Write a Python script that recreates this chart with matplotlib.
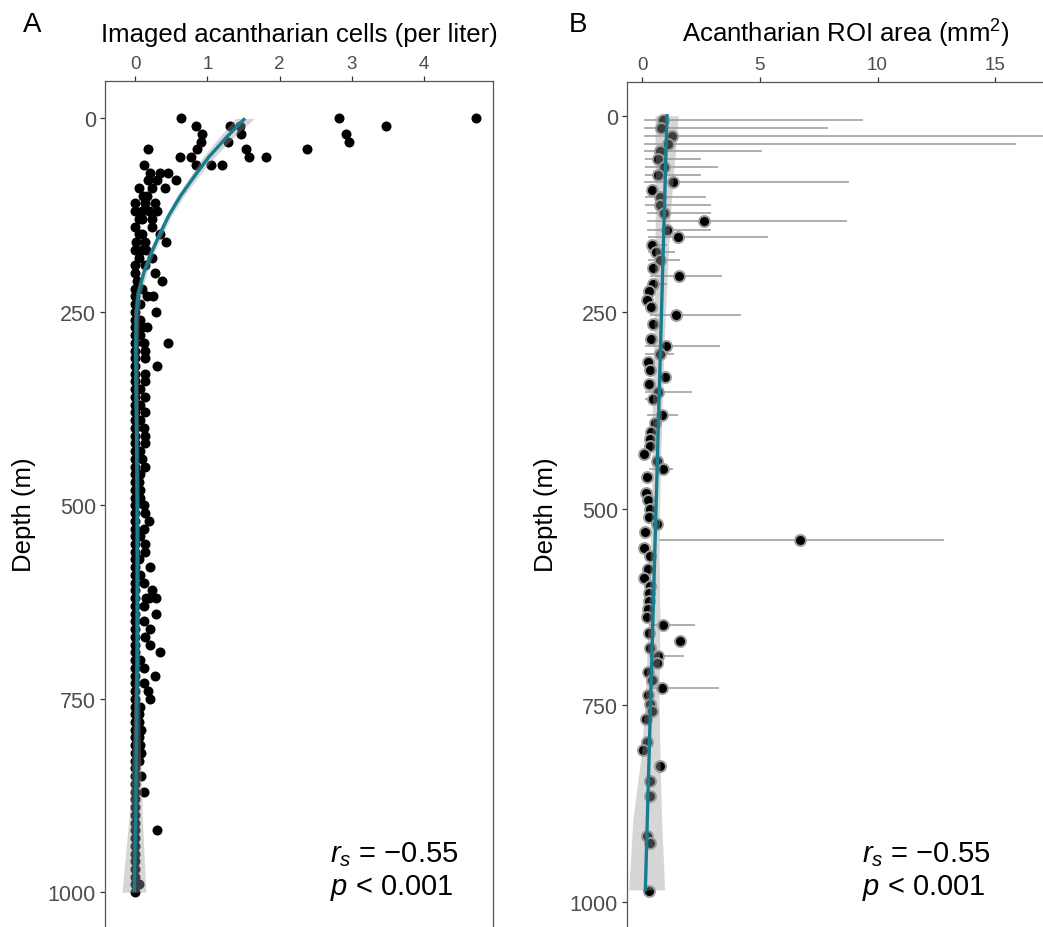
import numpy as np
import matplotlib
matplotlib.use("Agg")
import matplotlib.pyplot as plt

plt.rcParams['font.family'] = ['Liberation Sans', 'DejaVu Sans']
plt.rcParams['mathtext.fontset'] = 'custom'
plt.rcParams['mathtext.rm'] = 'Liberation Sans'
plt.rcParams['mathtext.it'] = 'Liberation Sans:italic'

# --- panel A: imaged acantharian cells per liter, by depth bin (m) ---
depth_a = [
    0, 0, 0,
    10, 10, 10, 10,
    20, 20, 20,
    30, 30, 30,
    40, 40, 40, 40,
    50, 50, 50, 50,
    60, 60, 60, 60,
    70, 70, 70,
    80, 80, 80,
    90, 90, 90,
    100, 100,
    110, 110, 110,
    120, 120, 120, 120,
    130, 130, 130,
    140, 140,
    150, 150, 150,
    160, 160, 160,
    170, 170, 170,
    180, 180, 190, 190, 200, 200, 210, 210, 220, 220,
    230, 230, 230,
    240, 240, 250, 250, 260, 260,
    270, 270, 270,
    280, 280,
    290, 290, 290,
    300, 300, 310, 310, 320, 320, 330, 330, 340, 340,
    350, 350, 360, 360, 370, 370, 380, 380, 390, 390,
    400, 400, 410, 410, 420, 420, 430, 430, 440, 440,
    450, 450, 460, 460, 470, 470, 480, 480, 490, 490,
    500, 500, 510, 510, 520, 520, 530, 530, 540, 540,
    550, 550, 560, 560, 570, 570, 580, 580, 590, 590,
    600, 600, 610, 610,
    620, 620, 620, 620,
    630, 630, 640, 640, 650, 650, 660, 660, 670, 670,
    680, 680, 690, 690, 700, 700, 710, 710, 720, 720,
    730, 730, 740, 740, 750, 750, 760, 760, 770, 770,
    780, 780, 790, 790, 800, 800, 810, 810, 820, 820,
    830, 830,
    840,
    850, 850,
    860,
    870, 870,
    880, 890, 900, 910,
    920, 920,
    930, 940, 950, 960, 970, 980,
    990, 990,
    1000,
]
cells_a = [
    0.63, 2.82, 4.71,
    0.84, 1.31, 1.45, 3.47,
    0.92, 1.47, 2.92,
    0.91, 1.28, 2.96,
    0.18, 0.86, 1.53, 2.38,
    0.62, 0.78, 1.57, 1.81,
    0.12, 0.85, 1.05, 1.20,
    0.21, 0.35, 0.46,
    0.18, 0.31, 0.57,
    0.05, 0.23, 0.42,
    0.11, 0.16,
    0.00, 0.14, 0.27,
    0.00, 0.09, 0.20, 0.30,
    0.06, 0.10, 0.24,
    0.00, 0.24,
    0.05, 0.10, 0.35,
    0.02, 0.14, 0.43,
    0.00, 0.10, 0.15,
    0.05, 0.24, 0.00, 0.14, 0.00, 0.28, 0.03, 0.37, 0.00, 0.10,
    0.00, 0.16, 0.25,
    0.00, 0.07, 0.00, 0.29, 0.00, 0.07,
    0.00, 0.09, 0.16,
    0.00, 0.07,
    0.00, 0.13, 0.45,
    0.00, 0.14, 0.00, 0.14, 0.00, 0.31, 0.00, 0.14, 0.00, 0.14,
    0.00, 0.07, 0.00, 0.14, 0.00, 0.07, 0.00, 0.14, 0.00, 0.07,
    0.00, 0.13, 0.00, 0.14, 0.00, 0.14, 0.00, 0.07, 0.00, 0.09,
    0.00, 0.14, 0.00, 0.07, 0.00, 0.05, 0.00, 0.07, 0.00, 0.07,
    0.00, 0.12, 0.00, 0.14, 0.00, 0.20, 0.00, 0.13, 0.00, 0.07,
    0.00, 0.14, 0.00, 0.14, 0.00, 0.05, 0.00, 0.21, 0.00, 0.07,
    0.00, 0.13, 0.00, 0.23,
    0.00, 0.15, 0.20, 0.29,
    0.00, 0.13, 0.00, 0.29, 0.00, 0.13, 0.00, 0.21, 0.00, 0.14,
    0.00, 0.21, 0.00, 0.35, 0.00, 0.07, 0.00, 0.13, 0.00, 0.28,
    0.00, 0.13, 0.00, 0.18, 0.00, 0.21, 0.00, 0.07, 0.00, 0.05,
    0.00, 0.05, 0.00, 0.08, 0.00, 0.05, 0.00, 0.07, 0.00, 0.08,
    0.00, 0.05,
    0.00,
    0.00, 0.08,
    0.00,
    0.00, 0.12,
    0.00, 0.00, 0.00, 0.00,
    0.00, 0.30,
    0.00, 0.00, 0.00, 0.00, 0.00, 0.00,
    0.00, 0.05,
    0.00,
]
assert len(depth_a) == len(cells_a)

# smoothed cell density with depth and its 95% band
smooth_depth = [0, 25, 50, 75, 100, 125, 150, 175, 200, 225, 250,
                300, 400, 500, 600, 700, 800, 900, 1000]
smooth_cells = [1.52, 1.26, 1.02, 0.82, 0.63, 0.47, 0.34, 0.22, 0.12, 0.05, 0.02,
                0.01, 0.02, 0.03, 0.03, 0.03, 0.02, 0.01, -0.01]
smooth_lo = [1.39, 1.16, 0.94, 0.76, 0.58, 0.43, 0.30, 0.18, 0.08, 0.01, -0.02,
             -0.025, -0.01, 0.00, 0.00, -0.005, -0.03, -0.08, -0.18]
smooth_hi = [1.65, 1.36, 1.10, 0.88, 0.68, 0.51, 0.38, 0.26, 0.16, 0.09, 0.06,
             0.045, 0.05, 0.06, 0.06, 0.065, 0.07, 0.10, 0.15]

# --- panel B: mean acantharian ROI area (mm^2) with min-max range per depth ---
depth_b = [5, 16, 26, 36, 45, 55, 65, 75, 85, 95,
           104, 114, 124, 134, 145, 154, 164, 173, 183, 194,
           204, 214, 223, 234, 243, 254, 265, 284, 293, 303,
           313, 323, 333, 342, 351, 361, 381, 391, 402, 411,
           420, 430, 440, 450, 460, 480, 489, 500, 511, 519,
           530, 540, 550, 560, 577, 588, 598, 607, 618, 628,
           638, 648, 658, 668, 677, 687, 697, 708, 718, 728,
           737, 748, 758, 767, 797, 807, 827, 846, 866, 916,
           925, 986]
area_b = [0.86, 0.79, 1.26, 1.09, 0.77, 0.67, 0.91, 0.65, 1.30, 0.41,
          0.74, 0.77, 0.91, 2.61, 1.05, 1.50, 0.41, 0.60, 0.74, 0.44,
          1.55, 0.47, 0.30, 0.20, 0.38, 1.45, 0.44, 0.36, 1.00, 0.74,
          0.24, 0.34, 0.95, 0.27, 0.66, 0.44, 0.84, 0.56, 0.37, 0.34,
          0.31, 0.06, 0.62, 0.87, 0.20, 0.17, 0.24, 0.34, 0.27, 0.62,
          0.13, 6.72, 0.06, 0.31, 0.24, 0.08, 0.34, 0.27, 0.27, 0.24,
          0.20, 0.89, 0.27, 1.62, 0.31, 0.66, 0.62, 0.24, 0.42, 0.84,
          0.24, 0.31, 0.42, 0.16, 0.20, 0.03, 0.74, 0.34, 0.34, 0.20,
          0.31, 0.27]
area_lo = [0.06, 0.06, 0.06, 0.06, 0.09, 0.13, 0.10, 0.10, 0.08, 0.41,
           0.13, 0.13, 0.20, 0.20, 0.20, 0.25, 0.25, 0.25, 0.25, 0.44,
           0.32, 0.30, 0.30, 0.20, 0.38, 0.32, 0.44, 0.36, 0.13, 0.13,
           0.24, 0.34, 0.95, 0.27, 0.13, 0.13, 0.20, 0.56, 0.37, 0.34,
           0.31, 0.06, 0.62, 0.30, 0.20, 0.17, 0.24, 0.34, 0.27, 0.62,
           0.13, 0.70, 0.06, 0.31, 0.24, 0.08, 0.34, 0.27, 0.27, 0.24,
           0.20, 0.30, 0.27, 1.62, 0.31, 0.30, 0.62, 0.24, 0.42, 0.30,
           0.24, 0.31, 0.42, 0.16, 0.20, 0.03, 0.74, 0.34, 0.34, 0.20,
           0.31, 0.27]
area_hi = [9.37, 7.90, 17.5, 15.9, 5.10, 2.50, 3.20, 2.50, 8.80, 0.41,
           2.70, 2.90, 2.90, 8.70, 2.90, 5.35, 1.05, 1.40, 1.60, 0.44,
           3.40, 1.05, 0.30, 0.20, 0.38, 4.20, 0.44, 0.36, 3.30, 1.36,
           0.24, 0.34, 0.95, 0.27, 2.10, 0.60, 1.50, 0.56, 0.37, 0.34,
           0.31, 0.06, 0.62, 1.30, 0.20, 0.17, 0.24, 0.34, 0.27, 0.62,
           0.13, 12.82, 0.06, 0.31, 0.24, 0.08, 0.34, 0.27, 0.27, 0.24,
           0.20, 2.25, 0.27, 1.62, 0.31, 1.76, 0.62, 0.24, 0.42, 3.28,
           0.24, 0.31, 0.42, 0.16, 0.20, 0.03, 0.74, 0.34, 0.34, 0.20,
           0.31, 0.27]
assert len(depth_b) == len(area_b) == len(area_lo) == len(area_hi)

# linear trend of ROI area with depth and its 95% band
trend_depth = [0, 985]
trend_area = [1.05, 0.13]
band_depth = [0, 130, 267, 380, 483, 560, 640, 746, 810, 895, 985]
band_lo = [0.54, 0.55, 0.50, 0.42, 0.40, 0.33, 0.26, 0.11, -0.03, -0.40, -0.58]
band_hi = [1.53, 1.18, 0.96, 0.83, 0.75, 0.71, 0.75, 0.71, 0.75, 0.82, 0.95]

TEAL = '#187d8e'
RIBBON = '#999999'
FRAME = '#555555'
TICKTXT = '#4d4d4d'


def style_axis(ax):
    ax.xaxis.tick_top()
    ax.xaxis.set_label_position('top')
    for sp in ax.spines.values():
        sp.set_color(FRAME)
        sp.set_linewidth(0.9)
    ax.tick_params(axis='both', length=3.6, width=0.9, color='#333333',
                   labelcolor=TICKTXT, pad=3)
    ax.tick_params(axis='x', labelsize=13.5)
    ax.tick_params(axis='y', labelsize=15.5)


fig = plt.figure(figsize=(10.43, 9.28), dpi=100)

# panel A
axA = fig.add_axes([105 / 1043, -0.02, (493 - 105) / 1043, 0.9116 + 0.02])
axA.scatter(cells_a, depth_a, s=52, color='black', linewidths=0, zorder=2)
axA.fill_betweenx(smooth_depth, smooth_lo, smooth_hi,
                  color=RIBBON, alpha=0.4, linewidth=0, zorder=3)
axA.plot(smooth_cells, smooth_depth, color=TEAL, lw=2.4, zorder=4,
         solid_capstyle='butt')
axA.set_xlim(-0.415, 4.95)
axA.set_ylim(1068.9, -48.2)
axA.set_xticks([0, 1, 2, 3, 4])
axA.set_yticks([0, 250, 500, 750, 1000])
style_axis(axA)
axA.set_xlabel('Imaged acantharian cells (per liter)', fontsize=18.5, labelpad=10)
axA.set_ylabel('Depth (m)', fontsize=18.5, labelpad=8)
axA.text(2.70, 950, r'$r_s$ = −0.55', fontsize=21, va='center')
axA.text(2.70, 993, r'$p$ < 0.001', fontsize=21, va='center')

# panel B
axB = fig.add_axes([627 / 1043, -0.02, 1.02 - 627 / 1043, 0.9106 + 0.02])
axB.hlines(depth_b, area_lo, area_hi, color='#a8a8a8', lw=1.3, zorder=1)
axB.scatter(area_b, depth_b, s=62, color='black', edgecolors='#9a9a9a',
            linewidths=1.4, zorder=2)
axB.fill_betweenx(band_depth, band_lo, band_hi,
                  color=RIBBON, alpha=0.4, linewidth=0, zorder=3)
axB.plot(trend_area, trend_depth, color=TEAL, lw=2.4, zorder=4)
axB.set_xlim(-0.65, 17.92)
axB.set_ylim(1055.9, -42.9)
axB.set_xticks([0, 5, 10, 15])
axB.set_yticks([0, 250, 500, 750, 1000])
style_axis(axB)
axB.set_xlabel(r'Acantharian ROI area (mm$^2$)', fontsize=18.5, labelpad=10)
axB.set_ylabel('Depth (m)', fontsize=18.5, labelpad=8)
axB.text(9.34, 939, r'$r_s$ = −0.55', fontsize=21, va='center')
axB.text(9.34, 981, r'$p$ < 0.001', fontsize=21, va='center')

fig.text(32 / 1043, 1 - 25 / 928, 'A', fontsize=20, ha='center', va='center')
fig.text(578 / 1043, 1 - 25 / 928, 'B', fontsize=20, ha='center', va='center')

fig.savefig('out.png', dpi=100)
